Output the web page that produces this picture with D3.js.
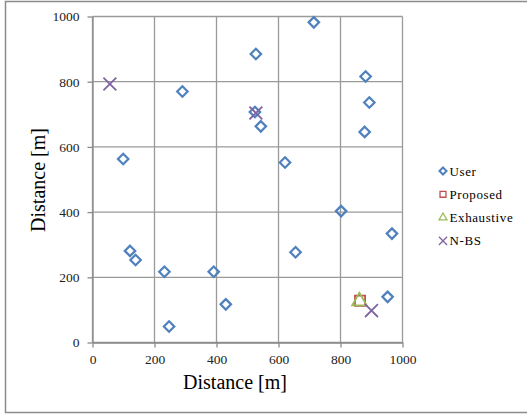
<!DOCTYPE html>
<html><head><meta charset="utf-8">
<script src="https://cdn.jsdelivr.net/npm/d3@7"></script>
<style>body{margin:0;background:#fff}svg{display:block}</style>
</head><body>
<script>
const userX = [714,527,881,893,878,543,524,621,290,99,121,139,232,391,430,247,802,966,655,952];
const userY = [982,885,816,736,646,663,707,552,770,563,281,253,217,217,117,49,403,334,277,140];
const proposedX = [863], proposedY = [128];
const exhaustiveX = [861], exhaustiveY = [127];
const nbsX = [56,527,900], nbsY = [793,704,98];
const tickValues = [0,200,400,600,800,1000];
const seriesNames = ["User","Proposed","Exhaustive","N-BS"];
const colors = {User:"#4F81BD",Proposed:"#C0504D",Exhaustive:"#9BBB59","N-BS":"#8064A2"};

const FONT="Liberation Serif";
const W=527,H=414;
const svg=d3.select("body").append("svg").attr("width",W).attr("height",H);
svg.append("path").attr("d","M530,1.5H5.5V412.5H530").attr("fill","none").attr("stroke","#8c8c8c").attr("stroke-width",1.5);

const x=d3.scaleLinear().domain([0,1000]).range([92.5,402.5]);
const y=d3.scaleLinear().domain([0,1000]).range([342.5,16.5]);
const g=svg.append("g");
tickValues.forEach(v=>{
  g.append("line").attr("x1",x(v)).attr("x2",x(v)).attr("y1",y(0)).attr("y2",y(1000)).attr("stroke","#9a9a9a").attr("stroke-width",1.3);
  g.append("line").attr("y1",y(v)).attr("y2",y(v)).attr("x1",x(0)).attr("x2",x(1000)).attr("stroke","#9a9a9a").attr("stroke-width",1.3);
});
const fmt=d3.format("d");
const xa=g.append("g").attr("transform",`translate(0,${y(0)})`).call(d3.axisBottom(x).tickValues(tickValues).tickFormat(fmt).tickSize(5).tickPadding(7).tickSizeOuter(0));
const ya=g.append("g").attr("transform",`translate(${x(0)},0)`).call(d3.axisLeft(y).tickValues(tickValues).tickFormat(fmt).tickSize(5).tickPadding(8).tickSizeOuter(0));
[xa,ya].forEach(a=>{
  a.attr("font-family",FONT).attr("font-size",13.5);
  a.selectAll("path,line").attr("stroke","#8a8a8a").attr("stroke-width",1.3);
  a.selectAll("text").attr("font-family",FONT).attr("font-size",13.5).attr("fill","#222");
});
svg.append("text").attr("x",235).attr("y",389).attr("text-anchor","middle").attr("font-family",FONT).attr("font-size",20).attr("fill","#000").text("Distance [m]");
svg.append("text").attr("transform","translate(45,180) rotate(-90)").attr("text-anchor","middle").attr("font-family",FONT).attr("font-size",20).attr("fill","#000").text("Distance [m]");

const sym={
  User:d3.symbol().type(d3.symbolDiamond2).size(70),
  Proposed:d3.symbol().type(d3.symbolSquare2).size(130),
  Exhaustive:d3.symbol().type(d3.symbolTriangle2).size(150),
  "N-BS":d3.symbol().type(d3.symbolX).size(110)
};
const symL={
  User:d3.symbol().type(d3.symbolDiamond2).size(32),
  Proposed:d3.symbol().type(d3.symbolSquare2).size(45),
  Exhaustive:d3.symbol().type(d3.symbolTriangle2).size(45),
  "N-BS":d3.symbol().type(d3.symbolX).size(45)
};
function draw(name,xs,ys,sw){
  g.append("g").selectAll("path").data(xs.map((v,i)=>[v,ys[i]])).join("path")
   .attr("d",sym[name]()).attr("transform",d=>`translate(${x(d[0])},${y(d[1])})`)
   .attr("fill","none").attr("stroke",colors[name]).attr("stroke-width",sw);
}
draw("User",userX,userY,2.2);
draw("Proposed",proposedX,proposedY,1.8);
draw("Exhaustive",exhaustiveX,exhaustiveY,1.8);
draw("N-BS",nbsX,nbsY,1.8);

const leg=svg.append("g");
seriesNames.forEach((n,i)=>{
  const yy=171+i*23.3;
  leg.append("path").attr("d",symL[n]()).attr("transform",`translate(443,${yy})`).attr("fill","none").attr("stroke",colors[n]).attr("stroke-width",n==="User"?2:1.3);
  leg.append("text").attr("x",449.5).attr("y",yy+4.5).attr("font-family",FONT).attr("font-size",13).attr("letter-spacing",0.6).attr("fill","#000").text(n);
});
</script>
</body></html>
